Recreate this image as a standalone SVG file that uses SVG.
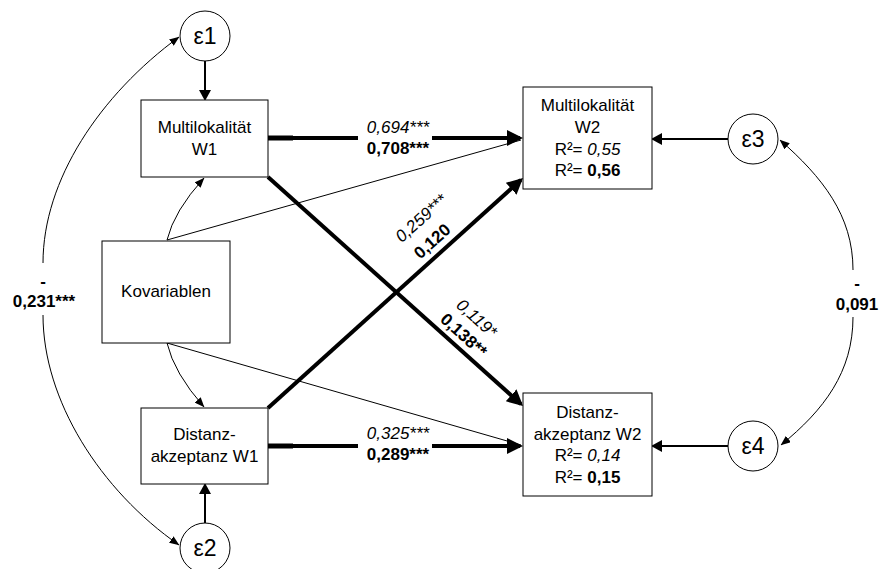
<svg xmlns="http://www.w3.org/2000/svg" width="880" height="569" viewBox="0 0 880 569">
<style>
  .box{fill:#fff;stroke:#000;stroke-width:1}
  .t{font-family:"Liberation Sans",Arial,sans-serif;font-size:17px;fill:#000;text-anchor:middle}
  .e{font-family:"Liberation Sans",Arial,sans-serif;font-size:23px;fill:#000;text-anchor:middle}
  .i{font-style:italic}
  .b{font-weight:bold}
  .thick{fill:none;stroke:#000;stroke-width:4}
  .med{fill:none;stroke:#000;stroke-width:2}
  .thin{fill:none;stroke:#000;stroke-width:1}
</style>
<defs>
  <marker id="big" markerUnits="userSpaceOnUse" markerWidth="16" markerHeight="16" refX="13" refY="8" orient="auto">
    <path d="M0,0 L16,8 L0,16 z" fill="#000"/>
  </marker>
  <marker id="mid" markerUnits="userSpaceOnUse" markerWidth="11" markerHeight="12" refX="9" refY="6" orient="auto">
    <path d="M0,0 L11,6 L0,12 z" fill="#000"/>
  </marker>
  <marker id="sm" markerUnits="userSpaceOnUse" markerWidth="10" markerHeight="8" refX="9.5" refY="4" orient="auto">
    <path d="M0,0 L10,4 L0,8 z" fill="#000"/>
  </marker>
</defs>

<g id="connectors">
  <!-- error arrows -->
  <line class="med" x1="205" y1="61" x2="205" y2="99" marker-end="url(#mid)"/>
  <line class="med" x1="205" y1="523" x2="205" y2="485" marker-end="url(#mid)"/>
  <line class="med" x1="728" y1="139" x2="653" y2="139" marker-end="url(#mid)"/>
  <line class="med" x1="728" y1="446" x2="653" y2="446" marker-end="url(#mid)"/>

  <!-- covariates -->
  <path class="thin" d="M167,240 Q174,211 204,178" marker-end="url(#sm)"/>
  <path class="thin" d="M167,343 Q174,373 204,407" marker-end="url(#sm)"/>
  <line class="thin" x1="167" y1="240" x2="521" y2="140"/>
  <line class="thin" x1="167" y1="343" x2="521" y2="445"/>

  <!-- thick horizontal paths -->
  <line x1="268" y1="138" x2="293" y2="138" stroke="#000" stroke-width="5"/>
  <line class="thick" x1="292" y1="138" x2="358" y2="138"/>
  <line class="thick" x1="432" y1="138" x2="520" y2="138" marker-end="url(#big)"/>
  <line x1="268" y1="446" x2="293" y2="446" stroke="#000" stroke-width="5"/>
  <line class="thick" x1="292" y1="446" x2="358" y2="446"/>
  <line class="thick" x1="432" y1="446" x2="520" y2="446" marker-end="url(#big)"/>

  <!-- thick diagonals -->
  <line class="thick" x1="268" y1="177" x2="520.8" y2="404" marker-end="url(#big)"/>
  <line class="thick" x1="268" y1="408" x2="520.8" y2="180" marker-end="url(#big)"/>

  <!-- covariance curves -->
  <path class="thin" d="M43,263 C43,180 100,95 179,37" marker-end="url(#sm)"/>
  <path class="thin" d="M43,315 C43,400 100,490 179,545" marker-end="url(#sm)"/>
  <path class="thin" d="M853,270 C853,215 822,177 780,140" marker-end="url(#sm)"/>
  <path class="thin" d="M853,317 C853,372 824,410 781,445" marker-end="url(#sm)"/>
</g>

<g id="labels">
  <text class="t i" x="398" y="133">0,694***</text>
  <text class="t b" x="398" y="154">0,708***</text>
  <text class="t i" x="398" y="439">0,325***</text>
  <text class="t b" x="398" y="460">0,289***</text>
  <text class="t i" transform="translate(421,218) rotate(-42)" x="0" y="6">0,259***</text>
  <text class="t b" transform="translate(432,241) rotate(-42)" x="0" y="6">0,120</text>
  <text class="t i" transform="translate(477,318) rotate(42)" x="0" y="6">0,119*</text>
  <text class="t b" transform="translate(464,335) rotate(42)" x="0" y="6">0,138**</text>
  <text class="t b" x="43" y="287">-</text>
  <text class="t b" x="44" y="307">0,231***</text>
  <text class="t b" x="857" y="289">-</text>
  <text class="t b" x="857" y="310">0,091</text>
</g>

<g id="e1">
  <circle cx="205" cy="36" r="25" fill="#fff" stroke="#000" stroke-width="1"/>
  <text class="e" x="205" y="44">ε1</text>
</g>
<g id="e2">
  <circle cx="205" cy="548" r="25" fill="#fff" stroke="#000" stroke-width="1"/>
  <text class="e" x="205" y="556">ε2</text>
</g>
<g id="e3">
  <circle cx="753" cy="139" r="25" fill="#fff" stroke="#000" stroke-width="1"/>
  <text class="e" x="753" y="147">ε3</text>
</g>
<g id="e4">
  <circle cx="753" cy="446" r="25" fill="#fff" stroke="#000" stroke-width="1"/>
  <text class="e" x="753" y="454">ε4</text>
</g>

<g id="multi_w1">
  <rect class="box" x="141" y="100" width="127" height="77"/>
  <text class="t" x="204.5" y="133">Multilokalität</text>
  <text class="t" x="204.5" y="155">W1</text>
</g>
<g id="kovariablen">
  <rect class="box" x="102" y="241" width="128" height="102"/>
  <text class="t" x="166" y="297">Kovariablen</text>
</g>
<g id="distanz_w1">
  <rect class="box" x="141" y="408" width="127" height="76"/>
  <text class="t" x="204.5" y="440">Distanz-</text>
  <text class="t" x="204.5" y="462">akzeptanz W1</text>
</g>
<g id="multi_w2">
  <rect class="box" x="523" y="87" width="129" height="102"/>
  <text class="t" x="587.5" y="111">Multilokalität</text>
  <text class="t" x="587.5" y="133">W2</text>
  <text class="t" x="587.5" y="155">R²= <tspan class="i">0,55</tspan></text>
  <text class="t" x="587.5" y="176">R²= <tspan class="b">0,56</tspan></text>
</g>
<g id="distanz_w2">
  <rect class="box" x="523" y="393" width="129" height="103"/>
  <text class="t" x="587.5" y="418">Distanz-</text>
  <text class="t" x="587.5" y="440">akzeptanz W2</text>
  <text class="t" x="587.5" y="461">R²= <tspan class="i">0,14</tspan></text>
  <text class="t" x="587.5" y="483">R²= <tspan class="b">0,15</tspan></text>
</g>
</svg>
